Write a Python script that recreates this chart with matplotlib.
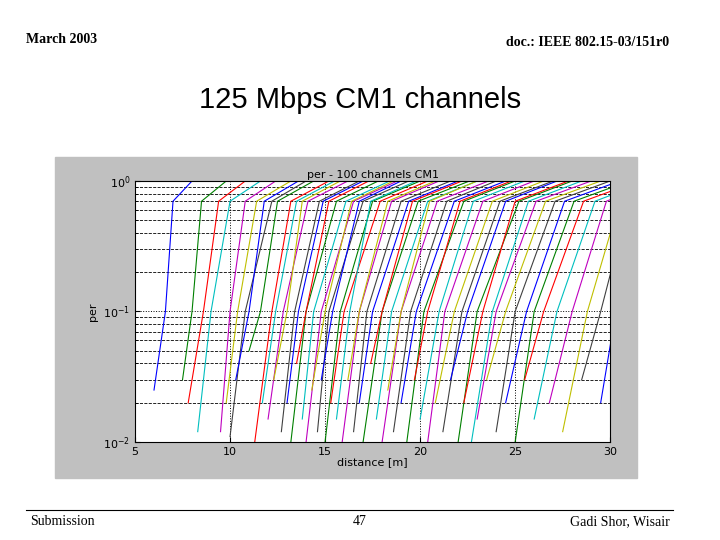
import matplotlib.pyplot as plt

# each curve: (distance at first point, per at first point, distance at per=0.1, distance at per=1)
curve_start_d = [6.0, 7.5, 7.8, 8.3, 9.5, 9.8, 10.0, 10.3, 11.0, 11.3, 11.7, 12.0, 12.3, 12.7, 13.0,
                 13.2, 13.5, 13.8, 14.0, 14.3, 14.6, 14.8, 15.0, 15.3, 15.6, 15.9, 16.2, 16.5, 16.8,
                 17.0, 17.4, 17.7, 18.0, 18.3, 18.6, 19.0, 19.3, 19.7, 20.0, 20.4, 20.8, 21.2, 21.6,
                 22.0, 22.3, 22.7, 23.0, 23.5, 24.0, 24.5, 25.0, 25.5, 26.0, 26.8, 27.5, 28.5, 29.5]
curve_start_per = [0.025, 0.03, 0.02, 0.012, 0.012, 0.02, 0.011, 0.03, 0.05, 0.01, 0.02, 0.015, 0.03,
                   0.012, 0.02, 0.01, 0.04, 0.015, 0.01, 0.025, 0.012, 0.03, 0.01, 0.02, 0.015, 0.01,
                   0.03, 0.012, 0.02, 0.01, 0.04, 0.015, 0.01, 0.025, 0.012, 0.02, 0.01, 0.03, 0.015,
                   0.01, 0.02, 0.012, 0.03, 0.01, 0.02, 0.01, 0.015, 0.03, 0.012, 0.02, 0.01, 0.03,
                   0.015, 0.02, 0.012, 0.03, 0.02]
curve_mid_d = [6.6, 8.0, 8.6, 9.0, 10.0, 10.4, 10.8, 11.0, 11.6, 12.2, 12.4, 12.8, 13.0, 13.4, 13.6,
               14.0, 14.0, 14.4, 14.8, 15.0, 15.2, 15.4, 15.8, 16.0, 16.3, 16.8, 16.8, 17.2, 17.5,
               18.0, 18.0, 18.5, 19.0, 19.0, 19.5, 19.8, 20.2, 20.4, 21.0, 21.3, 21.8, 22.2, 22.5,
               23.0, 23.3, 23.8, 24.0, 24.5, 25.0, 25.6, 26.0, 26.5, 27.2, 28.0, 28.8, 29.5, 30.3]
# distance where per is about 0.7 (curves bend over near the top)
curve_knee_d = [7.0, 8.5, 9.4, 10.0, 10.8, 11.4, 12.2, 11.8, 12.5, 13.2, 13.5, 14.1, 13.8, 14.7, 14.9,
                15.6, 15.2, 16.1, 16.5, 16.4, 17.0, 16.8, 17.5, 17.9, 17.4, 18.5, 18.3, 19.0, 19.4,
                19.9, 19.6, 20.4, 20.9, 20.5, 21.4, 21.8, 22.3, 22.1, 22.8, 23.3, 23.8, 24.2, 24.5,
                25.2, 25.0, 25.7, 26.1, 26.6, 27.1, 27.6, 28.1, 28.6, 29.2, 29.8, 30.5, 31.0, 31.5]
curve_top_d = [8.0, 9.8, 10.8, 11.6, 12.4, 13.2, 14.0, 13.6, 14.4, 15.2, 15.5, 16.2, 15.8, 16.8, 17.0,
               17.8, 17.3, 18.4, 18.8, 18.6, 19.4, 19.0, 20.0, 20.4, 19.8, 21.0, 20.8, 21.6, 22.0,
               22.6, 22.2, 23.0, 23.6, 23.0, 24.0, 24.5, 25.0, 24.8, 25.5, 26.0, 26.5, 27.0, 27.2,
               28.0, 27.8, 28.5, 29.0, 29.5, 30.0, 30.5, 31.0, 31.5, 32.0, 32.5, 33.0, 33.5, 34.0]

matlab_colors = ['#0000ff', '#008000', '#ff0000', '#00bfbf', '#bf00bf', '#bfbf00', '#404040']

fig = plt.figure(figsize=(7.2, 5.4), dpi=100)

# slide header / footer
fig.text(0.036, 0.92, 'March 2003', family='Liberation Serif', fontsize=10, weight='bold')
fig.text(0.93, 0.915, 'doc.: IEEE 802.15-03/151r0', family='Liberation Serif', fontsize=10,
         weight='bold', ha='right')
fig.text(0.5, 0.8, '125 Mbps CM1 channels', family='Liberation Sans', fontsize=21, ha='center')
fig.add_artist(plt.Line2D([0.036, 0.935], [0.055, 0.055], color='black', lw=0.8))
fig.text(0.042, 0.027, 'Submission', family='Liberation Serif', fontsize=10)
fig.text(0.5, 0.027, '47', family='Liberation Serif', fontsize=10, ha='center')
fig.text(0.93, 0.027, 'Gadi Shor, Wisair', family='Liberation Serif', fontsize=10, ha='right')

# grey matlab figure background
fig.add_artist(plt.Rectangle((0.076, 0.115), 0.809, 0.595, color='#c0c0c0', zorder=-1))

ax = fig.add_axes([0.1875, 0.1815, 0.660, 0.4833])
for i in range(len(curve_start_d)):
    xs = [curve_start_d[i], curve_mid_d[i], curve_knee_d[i], curve_top_d[i], 30]
    ys = [curve_start_per[i], 0.1, 0.7, 1.0, 1.0]
    ax.plot(xs, ys, color=matlab_colors[i % len(matlab_colors)], lw=0.8)

ax.set_yscale('log')
ax.set_xlim(5, 30)
ax.set_ylim(0.01, 1)
ax.set_xticks([5, 10, 15, 20, 25, 30])
ax.grid(True, which='major', color='black', ls=':', lw=0.7)
ax.grid(True, which='minor', axis='y', color='black', ls='--', lw=0.6)
ax.tick_params(labelsize=8, direction='in', which='both')
ax.set_xlabel('distance [m]', fontsize=8, labelpad=0)
ax.set_ylabel('per', fontsize=8)
ax.set_title('per - 100 channels CM1', fontsize=8, pad=2)

fig.savefig('out.png', dpi=100)
